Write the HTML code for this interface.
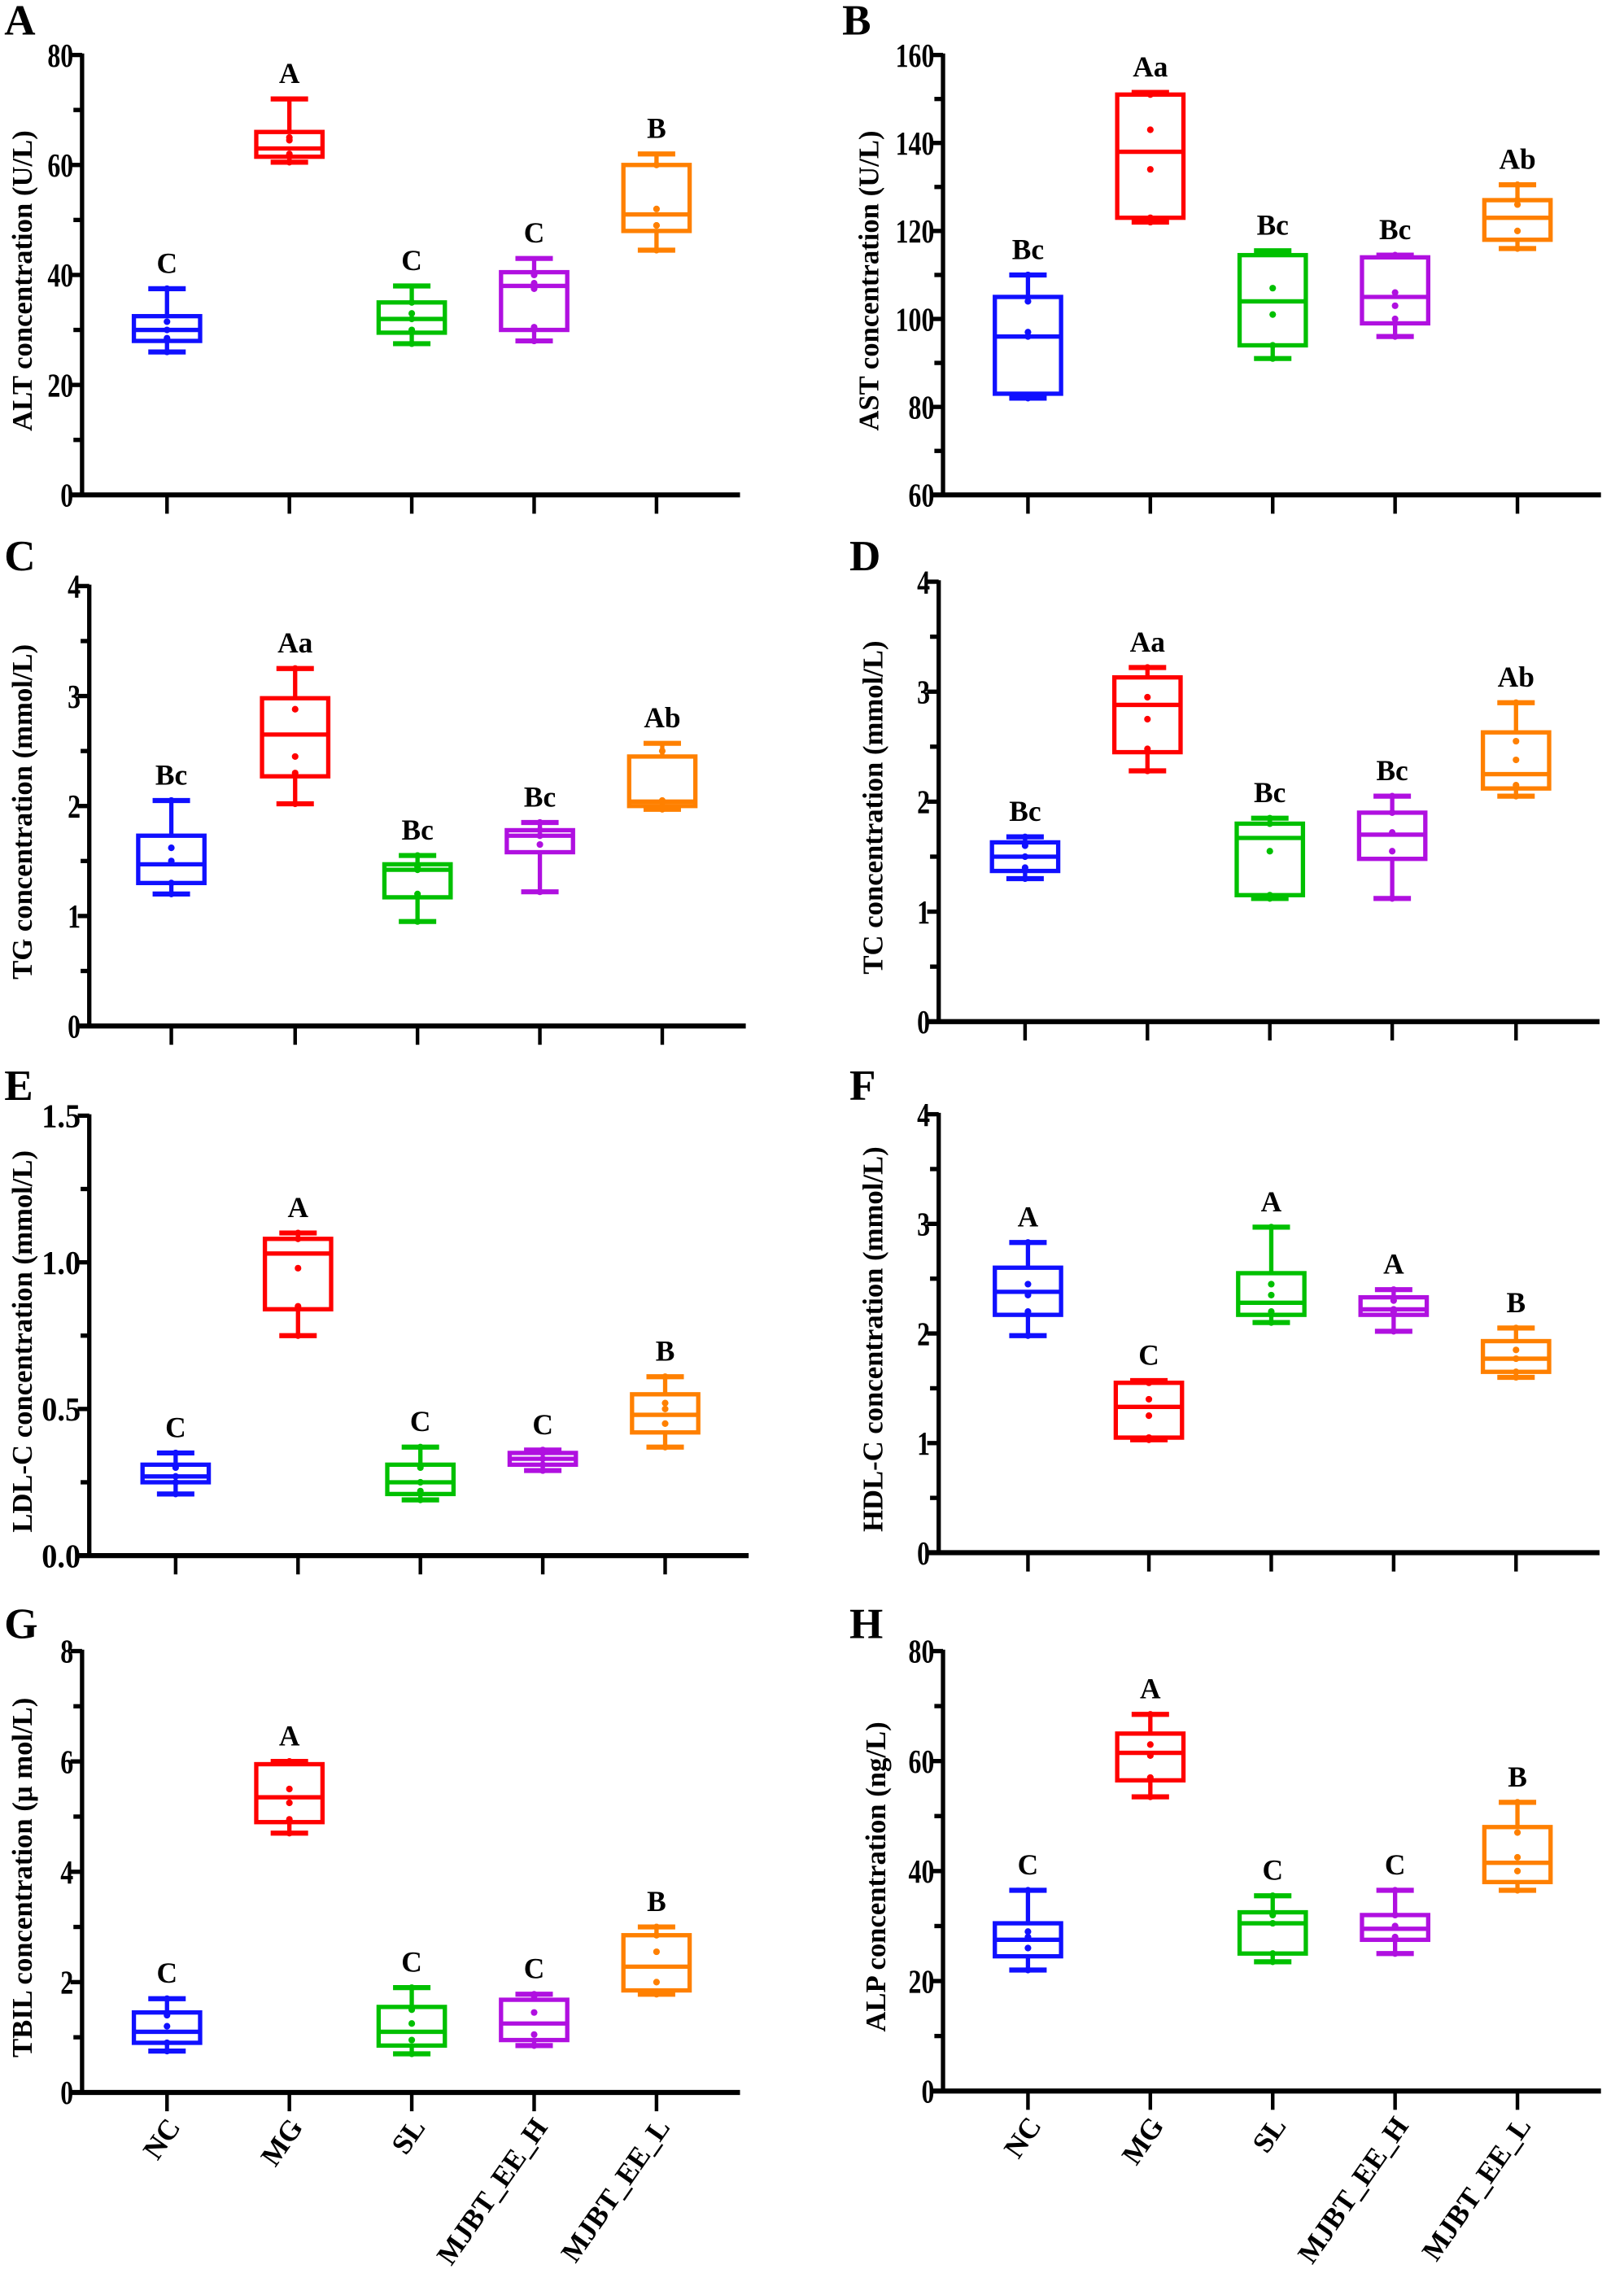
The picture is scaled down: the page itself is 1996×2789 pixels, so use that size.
<!DOCTYPE html>
<html><head><meta charset="utf-8"><style>
html,body{margin:0;padding:0;background:#fff;}
svg{display:block;}
text{font-family:"Liberation Serif",serif;font-weight:bold;fill:#000;}
</style></head><body>
<svg id="fig" width="1996" height="2789" viewBox="0 0 1128 1568" preserveAspectRatio="none" xmlns="http://www.w3.org/2000/svg"></svg>
<script>
const categories = ["NC","MG","SL","MJBT_EE_H","MJBT_EE_L"];
const colors = ["#1010ff","#ff0000","#00c000","#b010e0","#ff8000"];
// five-number summaries [min,q1,median,q3,max] per group
const statsA = [[26,28,30,32.5,37.5],[60.5,61.5,63,66,72],[27.5,29.5,32,35,38],[28,30,38,40.5,43],[44.5,48,51,60,62]];
const statsB = [[82,83,96,105,110],[122,123,138,151,151.5],[91,94,104,114.5,115.5],[96,99,105,114,114.5],[116,118,123,127,130.5]];
const statsC = [[1.2,1.3,1.47,1.73,2.05],[2.02,2.27,2.65,2.98,3.25],[0.95,1.17,1.42,1.47,1.55],[1.22,1.58,1.73,1.78,1.85],[1.97,2.0,2.04,2.45,2.57]];
const statsD = [[1.3,1.37,1.5,1.63,1.68],[2.28,2.45,2.88,3.13,3.22],[1.12,1.15,1.67,1.8,1.85],[1.12,1.48,1.7,1.9,2.05],[2.05,2.12,2.25,2.63,2.9]];
const statsE = [[0.21,0.25,0.27,0.31,0.35],[0.75,0.84,1.03,1.08,1.1],[0.19,0.21,0.25,0.31,0.37],[0.29,0.31,0.33,0.35,0.36],[0.37,0.42,0.48,0.55,0.61]];
const statsF = [[1.98,2.17,2.38,2.6,2.83],[1.03,1.05,1.33,1.55,1.57],[2.1,2.17,2.28,2.55,2.97],[2.02,2.17,2.22,2.33,2.4],[1.6,1.65,1.77,1.93,2.05]];
const statsG = [[0.75,0.9,1.1,1.45,1.7],[4.7,4.9,5.35,5.95,6.0],[0.7,0.85,1.1,1.55,1.9],[0.85,0.95,1.25,1.68,1.78],[1.78,1.85,2.28,2.85,3.0]];
const statsH = [[22,24.5,27.5,30.5,36.5],[53.5,56.5,61.5,65,68.5],[23.5,25,30.5,32.5,35.5],[25,27.5,29.5,32,36.5],[36.5,38,41.5,48,52.5]];
// individual points
const ptsA = [[26,28.5,30,31.5,37.5],[60.5,61.5,62,64.5,65],[27.5,30,32,33,35],[28,30.5,37.5,38.5,40],[44.5,49,49,52,60]];
const ptsB = [[82,96,97,104,110],[122,123,134,143,151],[91,94,101,107,115],[96,100,103,106,114.5],[116,120,126,127,130.5]];
const ptsC = [[1.2,1.3,1.5,1.62,2.05],[2.02,2.3,2.45,2.88,3.25],[0.95,1.2,1.42,1.45,1.55],[1.22,1.65,1.73,1.78,1.85],[1.97,2.0,2.04,2.05,2.5]];
const ptsD = [[1.3,1.4,1.5,1.6,1.68],[2.28,2.48,2.75,2.95,3.22],[1.12,1.15,1.55,1.8,1.85],[1.12,1.55,1.72,1.9,2.05],[2.05,2.15,2.38,2.55,2.9]];
const ptsE = [[0.21,0.25,0.27,0.3,0.35],[0.75,0.85,0.98,1.08,1.1],[0.19,0.22,0.25,0.3,0.37],[0.29,0.31,0.33,0.35,0.36],[0.37,0.45,0.5,0.52,0.61]];
const ptsF = [[1.98,2.2,2.35,2.45,2.83],[1.03,1.05,1.25,1.4,1.55],[2.1,2.2,2.35,2.45,2.97],[2.02,2.2,2.22,2.3,2.4],[1.6,1.65,1.77,1.85,2.05]];
const ptsG = [[0.75,0.9,1.2,1.4,1.7],[4.7,4.95,5.25,5.5,6.0],[0.7,0.95,1.25,1.5,1.9],[0.85,1.05,1.45,1.75,1.78],[1.78,2.0,2.55,2.85,3.0]];
const ptsH = [[22,26,28,29,36.5],[53.5,57,61,63,68.5],[23.5,25,30.5,32,35.5],[25,28,30,32,36.5],[36.5,40,42.5,47,52.5]];
const lettersA = ["C","A","C","C","B"];
const lettersB = ["Bc","Aa","Bc","Bc","Ab"];
const lettersC = ["Bc","Aa","Bc","Bc","Ab"];
const lettersD = ["Bc","Aa","Bc","Bc","Ab"];
const lettersE = ["C","A","C","C","B"];
const lettersF = ["A","C","A","A","B"];
const lettersG = ["C","A","C","C","B"];
const lettersH = ["C","A","C","C","B"];
const ticksA = [0,20,40,60,80];
const ticksB = [60,80,100,120,140,160];
const ticksC = [0,1,2,3,4];
const ticksD = [0,1,2,3,4];
const ticksE = ["0.0","0.5","1.0","1.5"];
const ticksF = [0,1,2,3,4];
const ticksG = [0,2,4,6,8];
const ticksH = [0,20,40,60,80];

const NS="http://www.w3.org/2000/svg";
const svg=document.getElementById('fig');
function mk(tag,attrs,parent){const e=document.createElementNS(NS,tag);for(const k in attrs)e.setAttribute(k,attrs[k]);(parent||svg).appendChild(e);return e;}

const panels=[
 {id:"a",lab:"A",ylab:"ALT concentration (U/L)",stats:statsA,pts:ptsA,letters:lettersA,ticks:ticksA,ax:57,yTop:38,yBot:342,xs:[116,201,286,371,456],ly:15,lx:3,lyy:24},
 {id:"b",lab:"B",ylab:"AST concentration (U/L)",stats:statsB,pts:ptsB,letters:lettersB,ticks:ticksB,ax:655,yTop:38,yBot:342,xs:[714,799,884,969,1054],ly:603,lx:585,lyy:24},
 {id:"c",lab:"C",ylab:"TG concentration (mmol/L)",stats:statsC,pts:ptsC,letters:lettersC,ticks:ticksC,ax:62,yTop:405,yBot:709,xs:[119,205,290,375,460],ly:15,lx:3,lyy:394},
 {id:"d",lab:"D",ylab:"TC concentration (mmol/L)",stats:statsD,pts:ptsD,letters:lettersD,ticks:ticksD,ax:652,yTop:402,yBot:706,xs:[712,797,882,967,1053],ly:606,lx:590,lyy:394},
 {id:"e",lab:"E",ylab:"LDL-C concentration (mmol/L)",stats:statsE,pts:ptsE,letters:lettersE,ticks:ticksE,ax:62,yTop:771,yBot:1075,xs:[122,207,292,377,462],ly:15,lx:3,lyy:760},
 {id:"f",lab:"F",ylab:"HDL-C concentration (mmol/L)",stats:statsF,pts:ptsF,letters:lettersF,ticks:ticksF,ax:652,yTop:770,yBot:1073,xs:[714,798,883,968,1053],ly:606,lx:590,lyy:760},
 {id:"g",lab:"G",ylab:"TBIL concentration (\u03bc mol/L)",stats:statsG,pts:ptsG,letters:lettersG,ticks:ticksG,ax:57,yTop:1141,yBot:1446,xs:[116,201,286,371,456],ly:15,lx:3,lyy:1132,xl:true},
 {id:"h",lab:"H",ylab:"ALP concentration (ng/L)",stats:statsH,pts:ptsH,letters:lettersH,ticks:ticksH,ax:655,yTop:1141,yBot:1445,xs:[714,799,884,969,1054],ly:608,lx:590,lyy:1132,xl:true}
];

panels.forEach(p=>{
  const g=mk('g',{});
  
  
  const tv=p.ticks.map(Number);
  const lo=tv[0],hi=tv[tv.length-1];
  const y=v=>p.yBot-(v-lo)/(hi-lo)*(p.yBot-p.yTop);
  const pl=mk('text',{x:p.lx,y:p.lyy,'font-size':30},g);pl.textContent=p.lab;
  
  
  const ya=mk('line',{x1:p.ax,y1:p.yTop-1,x2:p.ax,y2:p.yBot,stroke:'#000','stroke-width':3},g);
  
  
  const xEnd=p.xs[4]+58;
  const xa=mk('line',{x1:p.ax-8,y1:p.yBot,x2:xEnd,y2:p.yBot,stroke:'#000','stroke-width':3.5},g);
  
  
  p.ticks.forEach((t,i)=>{
    const yy=y(Number(t));
    mk('line',{x1:p.ax-8,y1:yy,x2:p.ax,y2:yy,stroke:'#000','stroke-width':3},g);
    const tl=mk('text',{x:p.ax-6,y:yy+8,'font-size':23,'text-anchor':'end',textLength:String(t).length*9,lengthAdjust:'spacingAndGlyphs'},g);
    tl.textContent=t;
    
    
    if(i<p.ticks.length-1){
      const ym=y((Number(t)+Number(p.ticks[i+1]))/2);
      mk('line',{x1:p.ax-6,y1:ym,x2:p.ax,y2:ym,stroke:'#000','stroke-width':3},g);
    }
  });
  const yl=mk('text',{x:0,y:0,'font-size':19.5,'text-anchor':'middle',transform:`translate(${p.ly+7},${(p.yTop+p.yBot)/2+4}) rotate(-90)`},g);
  yl.textContent=p.ylab;
  
  
  p.xs.forEach((cx,i)=>{
    mk('line',{x1:cx,y1:p.yBot,x2:cx,y2:p.yBot+13,stroke:'#000','stroke-width':2.5},g);
    const s=p.stats[i],c=colors[i];
    const bg=mk('g',{},g);
    
    
    mk('line',{x1:cx,y1:y(s[0]),x2:cx,y2:y(s[1]),stroke:c,'stroke-width':3},bg);
    mk('line',{x1:cx,y1:y(s[3]),x2:cx,y2:y(s[4]),stroke:c,'stroke-width':3},bg);
    mk('line',{x1:cx-13,y1:y(s[0]),x2:cx+13,y2:y(s[0]),stroke:c,'stroke-width':3.5},bg);
    mk('line',{x1:cx-13,y1:y(s[4]),x2:cx+13,y2:y(s[4]),stroke:c,'stroke-width':3.5},bg);
    mk('rect',{x:cx-23,y:y(s[3]),width:46,height:Math.max(1,y(s[1])-y(s[3])),fill:'none',stroke:c,'stroke-width':3},bg);
    mk('line',{x1:cx-23,y1:y(s[2]),x2:cx+23,y2:y(s[2]),stroke:c,'stroke-width':3},bg);
    p.pts[i].forEach(v=>{
      const d=mk('circle',{cx:cx,cy:y(v),r:2.3,fill:c},bg);
      
      
    });
    const lt=mk('text',{x:cx,y:y(s[4])-11,'font-size':20,'text-anchor':'middle'},g);
    lt.textContent=p.letters[i];
    
    
    if(p.xl){
      const xt=mk('text',{x:0,y:0,'font-size':20,'text-anchor':'end',transform:`translate(${cx+10},${p.yBot+24}) rotate(-55)`},g);
      xt.textContent=categories[i];
      
      
    }
  });
});
</script>
</body></html>
